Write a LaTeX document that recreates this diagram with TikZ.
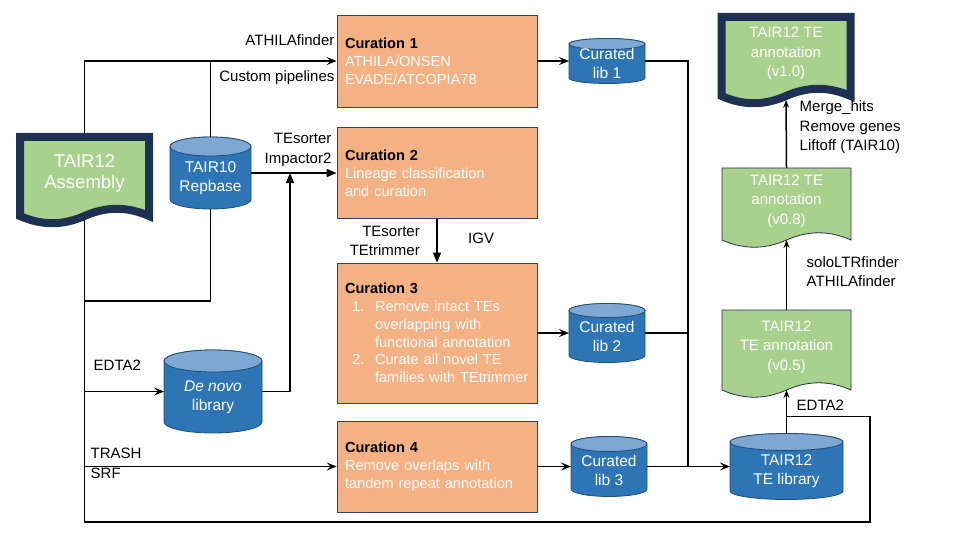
\documentclass[tikz,border=0pt]{standalone}
\usepackage{fontspec}
\setmainfont{Liberation Sans}
\usetikzlibrary{arrows.meta,calc}

\definecolor{curfill}{HTML}{F4B183}
\definecolor{curline}{HTML}{2F4468}
\definecolor{docfill}{HTML}{A9D18E}
\definecolor{docline}{HTML}{1F3152}
\definecolor{dbbody}{HTML}{2E75B6}
\definecolor{dbtop}{HTML}{7EA8D3}
\definecolor{dbline}{HTML}{1F4E79}

\tikzstyle{curation} = [rectangle, draw=curline, fill=curfill, line width=0.8pt, text width=184pt, inner xsep=8pt, inner ysep=0pt, minimum width=200pt, align=left, text=white, font=\fontsize{14.6}{17.8}\selectfont]
\tikzstyle{docframe} = [rectangle, minimum width=129pt, inner sep=0pt, outer sep=0pt]
\tikzstyle{doctext} = [align=center, text=white, font=\fontsize{15}{19.5}\selectfont]
\tikzstyle{asmtext} = [doctext, font=\fontsize{18.5}{21}\selectfont]
\tikzstyle{thickdoc} = [draw=docline, fill=docfill, line width=8pt]
\tikzstyle{thindoc} = [draw=docline, fill=docfill, line width=0.8pt]
\tikzstyle{dbframe} = [rectangle, inner sep=0pt, outer sep=0pt]
\tikzstyle{dbshape} = [draw=dbline, fill=dbbody, line width=0.8pt]
\tikzstyle{dbcap} = [draw=dbline, fill=dbtop, line width=0.8pt]
\tikzstyle{dbtext} = [align=center, text=white, font=\fontsize{15.5}{19}\selectfont]
\tikzstyle{lbl} = [inner sep=0pt, font=\fontsize{15}{19.5}\selectfont]
\tikzstyle{link} = [line width=1.5pt]
\tikzstyle{arrow} = [line width=1.5pt, -{Stealth[length=10pt,width=8pt,inset=4pt]}]
\tikzstyle{tri} = [line width=1.5pt, -{Triangle[length=10pt,width=8pt]}]
\tikzstyle{uparrow} = [line width=1.5pt, -{Stealth[length=8pt,width=6pt,inset=3pt]}]

% cylinder: name, centre, width, height, cap radius, text
\newcommand{\dbnode}[6]{%
  \node[dbframe, minimum width=#3pt, minimum height=#4pt] (#1) at (#2) {};
  \filldraw[dbshape] ($(#1.north west)+(0,#5)$) -- ($(#1.south west)+(0,-#5)$)
    arc[start angle=180, end angle=0, x radius=#3/2, y radius=#5]
    -- ($(#1.north east)+(0,#5)$)
    arc[start angle=0, end angle=-180, x radius=#3/2, y radius=#5] -- cycle;
  \filldraw[dbcap] ($(#1.north)+(0,#5)$) ellipse[x radius=#3/2, y radius=#5];
  \node[dbtext] (#1-t) at ($(#1.center)+(0,#5/2)$) {#6};
}

% document: name, centre, height, shape style, text style, text
\newcommand{\docnode}[6]{%
  \node[docframe, minimum height=#3pt] (#1) at (#2) {};
  \path[#4] (#1.north west) -- (#1.north east) -- (#1.south east)
    .. controls +(-21.5,-9.6) and +(21.5,-9.6) .. (#1.south)
    .. controls +(-21.5,9.6) and +(21.5,9.6) .. (#1.south west) -- cycle;
  \node[#5] (#1-t) at ($(#1.center)+(0,-3)$) {#6};
}

\begin{document}
\begin{tikzpicture}[x=1pt, y=-1pt]
  \useasboundingbox (0,0) rectangle (960,540);

  \node (cur1) [curation, minimum height=92pt] at (437,61) {\textcolor{black}{\textbf{Curation 1}}\\ATHILA/ONSEN\\EVADE/ATCOPIA78};
  \node (cur2) [curation, minimum height=91pt] at (437,173) {\textcolor{black}{\textbf{Curation 2}}\\Lineage classification\\and curation};
  \node (cur3) [curation, minimum height=140pt] at (437,333) {\textcolor{black}{\textbf{Curation 3}}\\
    \hspace*{7pt}\makebox[23pt][l]{1.}Remove intact TEs\\
    \hspace*{30pt}overlapping with\\
    \hspace*{30pt}functional annotation\\
    \hspace*{7pt}\makebox[23pt][l]{2.}Curate all novel TE\\
    \hspace*{30pt}families with TEtrimmer};
  \node (cur4) [curation, minimum height=91pt] at (437,466.5) {\textcolor{black}{\textbf{Curation 4}}\\Remove overlaps with\\tandem repeat annotation};

  \dbnode{lib1}{607,61}{76}{45}{5.5}{Curated\\lib 1}
  \dbnode{lib2}{607,333}{76}{59}{7}{Curated\\lib 2}
  \dbnode{lib3}{609,466.5}{76}{60}{7.5}{Curated\\lib 3}
  \dbnode{rep}{210.5,173}{81}{72}{9.5}{TAIR10\\Repbase}
  \dbnode{dn}{213,391.5}{98}{83}{11}{\textit{De novo}\\library}
  \dbnode{tel}{786.5,466.5}{113}{66}{8.5}{TAIR12\\TE library}

  \docnode{asm}{84.5,176.5}{79}{thickdoc}{asmtext}{TAIR12\\Assembly}
  \docnode{v10}{786,56.5}{79}{thickdoc}{doctext}{TAIR12 TE\\annotation\\(v1.0)}
  \docnode{v08}{786.5,204}{72}{thindoc}{doctext}{TAIR12 TE\\annotation\\(v0.8)}
  \docnode{v05}{786.5,350}{80}{thindoc}{doctext}{TAIR12\\TE annotation\\(v0.5)}

  \coordinate (j2) at (290,173);
  \coordinate (bus) at (688,466.5);
  \coordinate (loopse) at (870,522);
  \coordinate (edtaj) at ($(tel.north)+(0,-17)$);

  % --- %

  \draw [arrow, shorten <=4pt] (asm.north) |- (cur1.west);
  \draw [link] (rep.north) -- (rep.north |- cur1.west);
  \draw [tri] (rep.east) -- (rep.east -| cur2.west);
  \draw [tri] (dn.east) -| (j2);
  \draw [tri] (cur2.south) -- (cur3.north);

  \draw [link, shorten <=4pt] (asm.south) |- (loopse) |- (edtaj);
  \draw [link] (rep.south) |- ($(asm.south)+(0,85)$);
  \draw [arrow] (asm.south |- dn.west) -- (dn.west);
  \draw [arrow] (asm.south |- cur4.west) -- (cur4.west);

  \draw [arrow] (cur1.east) -- (lib1.west);
  \draw [arrow] (cur3.east) -- (lib2.west);
  \draw [arrow] (cur4.east) -- (lib3.west);
  \draw [link] (lib1.east) -| (bus);
  \draw [link] (lib2.east) -- (lib2.east -| bus);
  \draw [arrow] (lib3.east) -- (tel.west);

  \draw [uparrow] (tel.north) -- (v05.south);
  \draw [uparrow] (v05.north) -- (v08.south);
  \draw [uparrow, shorten >=4pt] (v08.north) -- (v10.south);

  % --- %

  \node (l-athila) [lbl, anchor=east] at ($(cur1.west)+(-2,-21)$) {ATHILAfinder};
  \node (l-custom) [lbl, anchor=east] at ($(cur1.west)+(-2,17)$) {Custom pipelines};
  \node (l-tes1) [lbl, anchor=east, align=right] at ($(cur2.west)+(-5,-23)$) {TEsorter\\Impactor2};
  \node (l-tes2) [lbl, anchor=east, align=right] at ($(cur2.south)+(-17,22)$) {TEsorter\\TEtrimmer};
  \node (l-igv) [lbl, anchor=west] at ($(cur2.south)+(31,19)$) {IGV};
  \node (l-edta1) [lbl, anchor=west] at ($(asm.south |- dn.west)+(9,-26)$) {EDTA2};
  \node (l-trash) [lbl, anchor=west, align=left] at ($(asm.south |- cur4.west)+(6,-3)$) {TRASH\\SRF};
  \node (l-edta2) [lbl, anchor=west] at ($(tel.north)+(10,-28)$) {EDTA2};
  \node (l-solo) [lbl, anchor=west, align=left] at ($(v05.north)+(20,-38.5)$) {soloLTRfinder\\ATHILAfinder};
  \node (l-merge) [lbl, anchor=west, align=left] at ($(v08.north)+(13,-40.5)$) {Merge\_hits\\Remove genes\\Liftoff (TAIR10)};

\end{tikzpicture}
\end{document}
